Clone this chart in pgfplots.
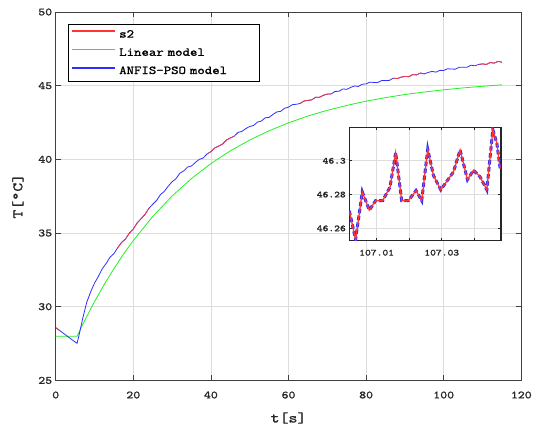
\documentclass[border=0pt]{standalone}
\usepackage{fontspec}
\setmainfont{Latin Modern Mono}[FakeStretch=1.2,FakeBold=1.3]
\usepackage{pgfplots}
\usepackage{pgfplotstable}
\pgfplotsset{compat=1.18}
\definecolor{mred}{HTML}{FF3535}
\definecolor{mgreen}{HTML}{22F022}
\definecolor{mblue}{HTML}{2E2EFF}
\definecolor{frame}{HTML}{404040}
\definecolor{gridc}{HTML}{DDDDDD}

% measured s2 / ANFIS-PSO output (they overlap)
\pgfplotstableread{
t T
0 28.58
1 28.39
2 28.19
3 28.00
4 27.80
5 27.61
5.5 27.52
6 28.05
7 29.25
8 30.30
9 31.00
10 31.60
11 32.06
12 32.58
13 32.93
14 33.36
15 33.60
16 34.01
17 34.37
18 34.60
19 35.00
20 35.27
21 35.69
22 35.97
23 36.26
24 36.67
25 36.95
26 37.21
27 37.61
28 37.83
29 38.18
30 38.48
31 38.69
32 39.06
33 39.22
34 39.48
35 39.55
36 39.79
37 40.00
38 40.09
39 40.37
40 40.52
41 40.78
42 40.90
43 41.04
44 41.31
45 41.45
46 41.57
47 41.83
48 41.90
49 42.09
50 42.23
51 42.30
52 42.53
53 42.60
54 42.82
55 42.85
56 43.05
57 43.22
58 43.26
59 43.47
60 43.54
61 43.71
62 43.74
63 43.79
64 43.96
65 44.00
66 44.04
67 44.22
68 44.22
69 44.35
70 44.43
71 44.44
72 44.61
73 44.62
74 44.78
75 44.75
76 44.88
77 44.98
78 44.95
79 45.10
80 45.12
81 45.24
82 45.22
83 45.22
84 45.35
85 45.35
86 45.36
87 45.51
88 45.48
89 45.58
90 45.63
91 45.61
92 45.75
93 45.73
94 45.86
95 45.80
96 45.90
97 45.97
98 45.92
99 46.04
100 46.03
101 46.15
102 46.13
103 46.12
104 46.25
105 46.25
106 46.25
107 46.39
108 46.35
109 46.44
110 46.48
111 46.44
112 46.57
113 46.53
114 46.65
115 46.59
}\meas

\pgfplotstableread{
t T
0 28.00
5.5 28.00
7.5 29.08
10 30.34
12.5 31.51
15 32.58
17.5 33.58
20 34.49
25 36.12
30 37.51
35 38.70
40 39.71
45 40.58
50 41.31
55 41.94
60 42.48
65 42.94
70 43.33
75 43.66
80 43.95
85 44.19
90 44.40
95 44.57
100 44.72
105 44.85
110 44.96
115 45.06
}\linmod

% zoom: ms after t = 107 s
\pgfplotstableread{
ms T
1.60 46.2704
3.54 46.2534
5.59 46.2816
7.74 46.2708
9.69 46.2764
11.85 46.2764
14.10 46.2844
15.85 46.3048
17.69 46.2764
19.74 46.2764
22.10 46.2824
23.85 46.2764
25.69 46.3068
27.44 46.2914
29.69 46.2828
33.59 46.2934
35.64 46.3064
37.90 46.2888
39.74 46.2944
41.80 46.2904
43.85 46.2828
45.69 46.3184
46.92 46.3104
47.95 46.2954
}\zoomed

\begin{document}
\begin{tikzpicture}
\path[use as bounding box] (-55.7pt,-48.6pt) rectangle (478.3pt,380.4pt);
\begin{axis}[
  at={(0pt,0pt)},anchor=south west,scale only axis,
  width=465.6pt,height=368.4pt,
  xmin=0,xmax=120,ymin=25,ymax=50,
  xtick={0,20,...,120},ytick={25,30,...,50},
  /pgf/number format/assume math mode=true,
  grid=major,grid style={gridc,line width=0.7pt},
  axis line style={frame,line width=0.9pt},
  tick style={frame,line width=0.8pt},
  tick align=inside,major tick length=5pt,
  tick label style={font=\fontsize{11}{12}\selectfont,text=black!85},
  xticklabel style={yshift=-7.6pt},
  xlabel={t[s]},ylabel={T[°C]},
  label style={font=\fontsize{14.5}{15}\selectfont,text=black!85},
  xlabel style={at={(axis description cs:0.5,0)},anchor=center,yshift=-37.6pt},
  ylabel style={at={(axis description cs:-0.0812,0.5)},anchor=center},
  legend style={at={(0.0271,0.9674)},anchor=north west,line width=0.6pt,
    fill=white,font=\fontsize{12}{12}\selectfont,
    nodes={inner sep=0pt,text height=8pt,text depth=2pt,text width=137pt,align=left},
    inner xsep=3.4pt,inner ysep=5.3pt,row sep=8.2pt,column sep=4.7pt},
  legend cell align=left,
  legend image code/.code={\fill[#1] (0pt,3.1pt) rectangle (41.7pt,3.9pt);},
]
\addlegendimage{color=mred,line width=0.8pt}
\addlegendentry{s2}
\addplot[color=mgreen,line width=0.8pt] table[x=t,y=T]{\linmod};
\addlegendentry{Linear model}
\addplot[color=mblue,line width=0.8pt] table[x=t,y=T]{\meas};
\addlegendentry{ANFIS-PSO model}
\addplot[color=mred,line width=0.8pt,forget plot,restrict x to domain=0:1.2] table[x=t,y=T]{\meas};
\addplot[color=mred,line width=0.8pt,forget plot,restrict x to domain=16:24.3] table[x=t,y=T]{\meas};
\addplot[color=mred,line width=0.8pt,forget plot,restrict x to domain=38.5:46.7] table[x=t,y=T]{\meas};
\addplot[color=mred,line width=0.8pt,forget plot,restrict x to domain=62.5:71.5] table[x=t,y=T]{\meas};
\addplot[color=mred,line width=0.8pt,forget plot,restrict x to domain=86.6:95.6] table[x=t,y=T]{\meas};
\addplot[color=mred,line width=0.8pt,forget plot,restrict x to domain=109:115] table[x=t,y=T]{\meas};
\end{axis}
\begin{axis}[
  at={(293.6pt,139.7pt)},anchor=south west,scale only axis,
  width=151.7pt,height=113.4pt,
  xmin=1.6,xmax=48.2,ymin=46.2527,ymax=46.3198,
  xtick={10,20,30,40},xticklabels={107.01,,107.03,},
  ytick={46.26,46.28,46.3},yticklabels={46.26,46.28,46.3},
  axis background/.style={fill=white},
  grid=major,grid style={gridc,line width=0.8pt},
  axis line style={black!85,line width=1.4pt},
  tick style={black!85,line width=0.8pt},
  tick align=inside,major tick length=3pt,
  tick label style={font=\fontsize{9.2}{10}\selectfont,text=black!85},
  xticklabel style={yshift=-5.5pt},
]
\addplot[color=mblue,line width=3pt,dash pattern=on 4.5pt off 2.5pt] table[x=ms,y=T]{\zoomed};
\addplot[color=mred,line width=1.3pt] table[x=ms,y=T]{\zoomed};
\end{axis}
\end{tikzpicture}
\end{document}
